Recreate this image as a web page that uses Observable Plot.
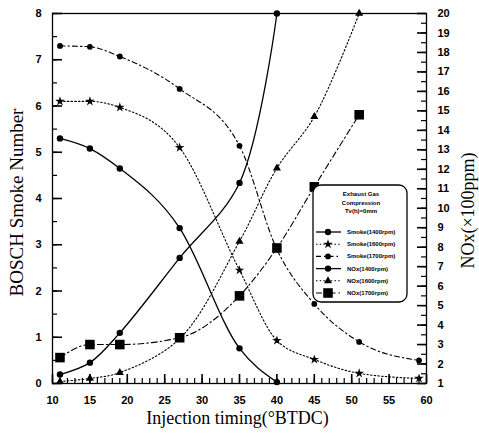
<!DOCTYPE html>
<html><head><meta charset="utf-8">
<script src="https://cdn.jsdelivr.net/npm/d3@7"></script>
<script src="https://cdn.jsdelivr.net/npm/@observablehq/plot@0.6"></script>
<style>body{margin:0;background:#fff} #chart{width:479px;height:440px}</style>
</head><body><div id="chart"></div>
<script>
// Injection timing (°BTDC)
const timing = [11, 15, 19, 27, 35, 40, 45, 51, 59];
// BOSCH smoke number (left axis)
const smoke1400 = [5.3, 5.08, 4.65, 3.36, 0.76, 0.03];
const smoke1600 = [6.1, 6.1, 5.97, 5.1, 2.45, 0.93, 0.52, 0.22, 0.11];
const smoke1700 = [7.3, 7.28, 7.07, 6.37, 5.14, 2.9, 1.72, 0.9, 0.5];
// NOx (x100 ppm, right axis)
const nox1400 = [1.46, 2.07, 3.6, 7.45, 11.3, 20];
const nox1600 = [1.1, 1.26, 1.56, 3.3, 8.3, 12.06, 14.7, 20];
const nox1700 = [2.33, 3.0, 3.0, 3.35, 5.5, 7.96, 11.1, 14.8];

const xTicks = [10, 15, 20, 25, 30, 35, 40, 45, 50, 55, 60];
const xMinor = d3.range(10, 61, 1);
const smokeTicks = [0, 1, 2, 3, 4, 5, 6, 7, 8];
const smokeMinor = d3.range(0, 8.01, 0.5);
const noxTicks = d3.range(1, 21, 1);
const noxMinor = d3.range(1, 20.01, 0.5);

const legendTitle = ["Exhaust Gas", "Compression", "Tv(h)=0mm"];
const legendNames = ["Smoke(1400rpm)", "Smoke(1600rpm)", "Smoke(1700rpm)", "NOx(1400rpm)", "NOx(1600rpm)", "NOx(1700rpm)"];

// map NOx (1..20) onto the left scale (0..8)
const toLeft = v => (v - 1) * 8 / 19;
const fromLeft = v => v * 19 / 8 + 1;

const W = 479, H = 440, mL = 52, mR = 53, mT = 13, mB = 57;
const pw = W - mL - mR, ph = H - mT - mB;
const xDom = [10, 60], yDom = [0, 8];
const px2x = p => p * (xDom[1] - xDom[0]) / pw;
const px2y = p => p * (yDom[1] - yDom[0]) / ph;

const mk = (vals, conv) => vals.map((v, i) => ({x: timing[i], y: conv ? toLeft(v) : v}));
const series = [
  {data: mk(smoke1400), dash: null, sym: "circle", r: 3.2, sw: 1.3, curve: "monotone-x"},
  {data: mk(smoke1600), dash: "1.5,2.2", sym: "star", r: 3.0, sw: 1.1, curve: "monotone-x"},
  {data: mk(smoke1700), dash: "5,3,1.5,3", sym: "circle", r: 2.9, sw: 1.1, curve: "monotone-x"},
  {data: mk(nox1400, true), dash: null, sym: "circle", r: 3.2, sw: 1.3, curve: "catmull-rom"},
  {data: mk(nox1600, true), dash: "1.5,2.2", sym: "triangle", r: 3.0, sw: 1.1, curve: "catmull-rom"},
  {data: mk(nox1700, true), dash: "6,3,1.5,3", sym: "square", r: 5.4, sw: 1.1, curve: "monotone-x"}
];

const tickFont = {fontFamily: "Liberation Sans, Arial, sans-serif", fontWeight: "bold", fontSize: 11};
const marks = [];
for (const s of series) {
  marks.push(Plot.line(s.data, {x: "x", y: "y", curve: s.curve, stroke: "black", strokeWidth: s.sw, strokeDasharray: s.dash}));
}
for (const s of series) {
  marks.push(Plot.dot(s.data, {x: "x", y: "y", symbol: s.sym, r: s.r, fill: "black", stroke: "none"}));
}
marks.push(
  Plot.frame({stroke: "black", strokeWidth: 1.3}),
  // inward ticks (lengths converted from pixels to data units)
  Plot.ruleX(xTicks, {x: d => d, y1: yDom[0], y2: yDom[0] + px2y(9), stroke: "black", strokeWidth: 1.6}),
  Plot.ruleX(xMinor, {x: d => d, y1: yDom[0], y2: yDom[0] + px2y(5), stroke: "black", strokeWidth: 1.2}),
  Plot.ruleY(smokeTicks, {y: d => d, x1: xDom[0], x2: xDom[0] + px2x(10), stroke: "black", strokeWidth: 1.6}),
  Plot.ruleY(smokeMinor, {y: d => d, x1: xDom[0], x2: xDom[0] + px2x(5), stroke: "black", strokeWidth: 1.2}),
  Plot.ruleY(noxTicks.map(toLeft), {y: d => d, x1: xDom[1] - px2x(9), x2: xDom[1], stroke: "black", strokeWidth: 1.6}),
  Plot.ruleY(noxMinor.map(toLeft), {y: d => d, x1: xDom[1] - px2x(5), x2: xDom[1], stroke: "black", strokeWidth: 1.2}),
  // tick labels
  Plot.axisX(xTicks, {anchor: "bottom", tickSize: 0, tickPadding: 13, label: null, ...tickFont}),
  Plot.axisY(smokeTicks, {anchor: "left", tickSize: 0, tickPadding: 11, label: null, ...tickFont}),
  Plot.axisY(noxTicks.map(toLeft), {anchor: "right", tickSize: 0, tickPadding: 11, label: null, tickFormat: d => Math.round(fromLeft(d)), ...tickFont}),
  // axis titles
  Plot.text(["BOSCH Smoke Number"], {frameAnchor: "left", text: d => d, textAnchor: "middle", rotate: -90, dx: -36, dy: 4, fontFamily: "Liberation Serif, serif", fontSize: 19, fill: "black"}),
  Plot.text(["NOx(\u00d7100ppm)"], {frameAnchor: "right", text: d => d, textAnchor: "middle", rotate: -90, dx: 42, dy: 12, fontFamily: "Liberation Serif, serif", fontSize: 18, fill: "black"}),
  Plot.text(["Injection timing(\u00b0BTDC)"], {frameAnchor: "bottom", text: d => d, textAnchor: "middle", dx: -2, dy: 40, fontFamily: "Liberation Serif, serif", fontSize: 18, fill: "black"})
);

const chart = Plot.plot({
  width: W, height: H,
  marginLeft: mL, marginRight: mR, marginTop: mT, marginBottom: mB,
  x: {domain: xDom},
  y: {domain: yDom},
  style: {background: "white", color: "black"},
  marks
});
document.getElementById("chart").appendChild(chart);

// legend box inside the plot
const svg = d3.select(chart);
const g = svg.append("g").attr("font-family", "Liberation Sans, Arial, sans-serif").attr("font-weight", "bold").attr("text-anchor", "start");
const lx = 313, ly = 185, lw = 94, lh = 117;
g.append("rect").attr("x", lx).attr("y", ly).attr("width", lw).attr("height", lh).attr("rx", 8)
  .attr("fill", "white").attr("stroke", "black").attr("stroke-width", 1.3);
legendTitle.forEach((t, i) => {
  g.append("text").attr("x", lx + 48).attr("y", ly + 11 + i * 8.5).attr("text-anchor", "middle")
    .attr("font-size", 6).text(t);
});
const symMap = {circle: d3.symbolCircle, star: d3.symbolStar, triangle: d3.symbolTriangle, square: d3.symbolSquare};
series.forEach((s, i) => {
  const yy = ly + 47 + i * 12.2;
  g.append("line").attr("x1", lx + 3).attr("x2", lx + 28).attr("y1", yy).attr("y2", yy)
    .attr("stroke", "black").attr("stroke-width", s.sw).attr("stroke-dasharray", s.dash);
  g.append("path").attr("transform", `translate(${lx + 15},${yy})`)
    .attr("d", d3.symbol(symMap[s.sym], Math.PI * s.r * s.r)()).attr("fill", "black");
  g.append("text").attr("x", lx + 34).attr("y", yy + 2).attr("font-size", 6).text(legendNames[i]);
});
</script>
</body></html>
